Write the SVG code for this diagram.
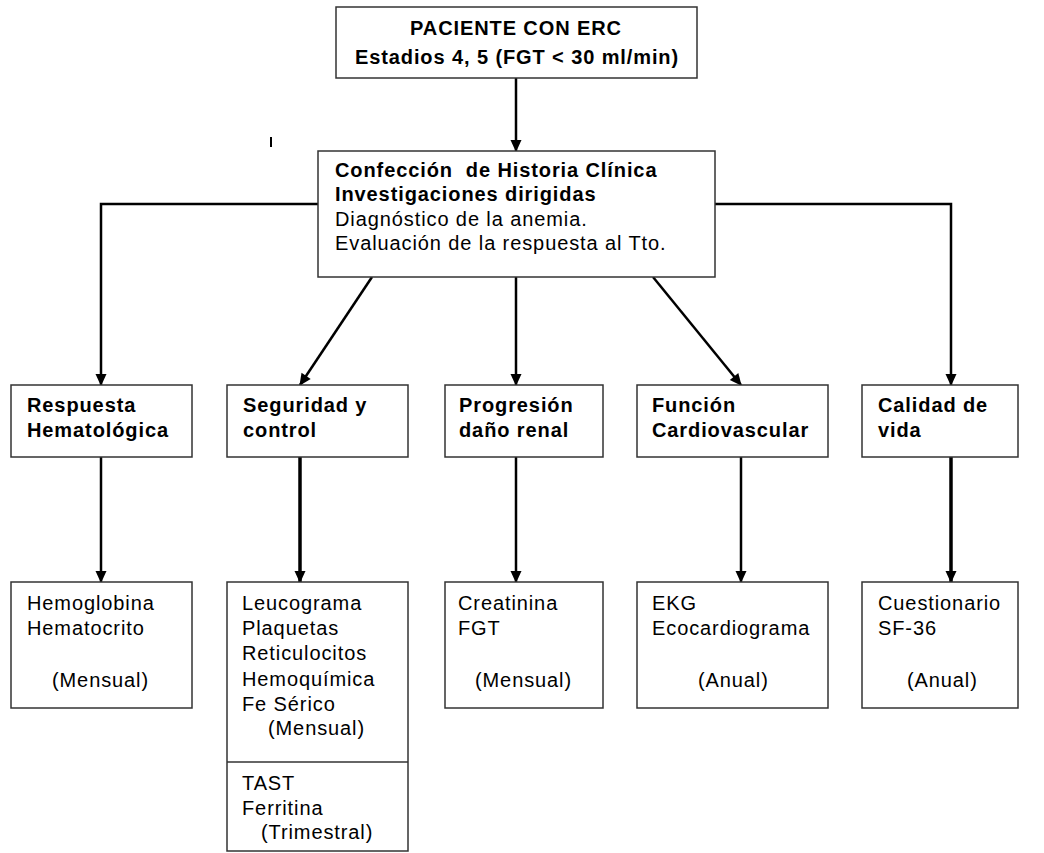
<svg xmlns="http://www.w3.org/2000/svg" width="1044" height="853" viewBox="0 0 1044 853">
<style>
.box{fill:#fff;stroke:#333;stroke-width:1.5}
.b{font-family:"Liberation Sans",Arial,sans-serif;font-weight:bold;font-size:20px;letter-spacing:0.9px;fill:#000}
.r{font-family:"Liberation Sans",Arial,sans-serif;font-size:20px;letter-spacing:0.9px;fill:#000}
.c{fill:none;stroke:#000;stroke-width:2.5}
.ct{fill:none;stroke:#000;stroke-width:3.5}
</style>
<defs>
<marker id="ah" markerUnits="userSpaceOnUse" markerWidth="14" markerHeight="14" viewBox="0 0 14 14" refX="12" refY="7" orient="auto">
<path d="M1,1.5 L13,7 L1,12.5 Z" fill="#000"/>
</marker>
</defs>
<rect width="1044" height="853" fill="#fff"/>
<g id="connectors">
<line class="c" x1="516" y1="78" x2="516" y2="151" marker-end="url(#ah)"/>
<polyline class="c" points="318,204 101,204 101,385" marker-end="url(#ah)"/>
<line class="c" x1="372" y1="277" x2="300" y2="385" marker-end="url(#ah)"/>
<line class="c" x1="516" y1="277" x2="516" y2="385" marker-end="url(#ah)"/>
<line class="c" x1="653" y1="277" x2="741" y2="385" marker-end="url(#ah)"/>
<polyline class="c" points="715,204 951,204 951,385" marker-end="url(#ah)"/>
<line class="c" x1="101" y1="457" x2="101" y2="582" marker-end="url(#ah)"/>
<line class="ct" x1="300" y1="457" x2="300" y2="582" marker-end="url(#ah)"/>
<line class="c" x1="516" y1="457" x2="516" y2="582" marker-end="url(#ah)"/>
<line class="c" x1="741" y1="457" x2="741" y2="582" marker-end="url(#ah)"/>
<line class="ct" x1="951" y1="457" x2="951" y2="582" marker-end="url(#ah)"/>
<line x1="271" y1="137" x2="271" y2="147" stroke="#000" stroke-width="2"/>
</g>
<g id="paciente">
<rect class="box" x="336" y="7" width="361" height="71"/>
<text class="b" x="516" y="35" text-anchor="middle">PACIENTE CON ERC</text>
<text class="b" x="517" y="64" text-anchor="middle">Estadios 4, 5 (FGT &lt; 30 ml/min)</text>
</g>
<g id="historia">
<rect class="box" x="318" y="151" width="397" height="126"/>
<text class="b" x="335" y="177" xml:space="preserve">Confección  de Historia Clínica</text>
<text class="b" x="335" y="201">Investigaciones dirigidas</text>
<text class="r" x="335" y="226">Diagnóstico de la anemia.</text>
<text class="r" x="335" y="250">Evaluación de la respuesta al Tto.</text>
</g>
<g id="respuesta">
<rect class="box" x="11" y="385" width="181" height="72"/>
<text class="b" x="27" y="412">Respuesta</text>
<text class="b" x="27" y="437">Hematológica</text>
</g>
<g id="seguridad">
<rect class="box" x="227" y="385" width="181" height="72"/>
<text class="b" x="243" y="412">Seguridad y</text>
<text class="b" x="243" y="437">control</text>
</g>
<g id="progresion">
<rect class="box" x="445" y="385" width="158" height="72"/>
<text class="b" x="459" y="412">Progresión</text>
<text class="b" x="459" y="437">daño renal</text>
</g>
<g id="funcion">
<rect class="box" x="637" y="385" width="191" height="72"/>
<text class="b" x="652" y="412">Función</text>
<text class="b" x="652" y="437">Cardiovascular</text>
</g>
<g id="calidad">
<rect class="box" x="862" y="385" width="156" height="72"/>
<text class="b" x="878" y="412">Calidad de</text>
<text class="b" x="878" y="437">vida</text>
</g>
<g id="hemoglobina">
<rect class="box" x="11" y="582" width="181" height="126"/>
<text class="r" x="27" y="610">Hemoglobina</text>
<text class="r" x="27" y="635">Hematocrito</text>
<text class="r" x="52" y="687">(Mensual)</text>
</g>
<g id="leucograma">
<rect class="box" x="227" y="582" width="181" height="269"/>
<line class="box" x1="227" y1="762" x2="408" y2="762"/>
<text class="r" x="242" y="610">Leucograma</text>
<text class="r" x="242" y="635">Plaquetas</text>
<text class="r" x="242" y="660">Reticulocitos</text>
<text class="r" x="242" y="686">Hemoquímica</text>
<text class="r" x="242" y="711">Fe Sérico</text>
<text class="r" x="268" y="735">(Mensual)</text>
<text class="r" x="242" y="790">TAST</text>
<text class="r" x="242" y="815">Ferritina</text>
<text class="r" x="261" y="839">(Trimestral)</text>
</g>
<g id="creatinina">
<rect class="box" x="445" y="582" width="158" height="126"/>
<text class="r" x="458" y="610">Creatinina</text>
<text class="r" x="458" y="635">FGT</text>
<text class="r" x="475" y="687">(Mensual)</text>
</g>
<g id="ekg">
<rect class="box" x="637" y="582" width="191" height="126"/>
<text class="r" x="652" y="610">EKG</text>
<text class="r" x="652" y="635">Ecocardiograma</text>
<text class="r" x="698" y="687">(Anual)</text>
</g>
<g id="cuestionario">
<rect class="box" x="862" y="582" width="156" height="126"/>
<text class="r" x="878" y="610">Cuestionario</text>
<text class="r" x="878" y="635">SF-36</text>
<text class="r" x="907" y="687">(Anual)</text>
</g>
</svg>
